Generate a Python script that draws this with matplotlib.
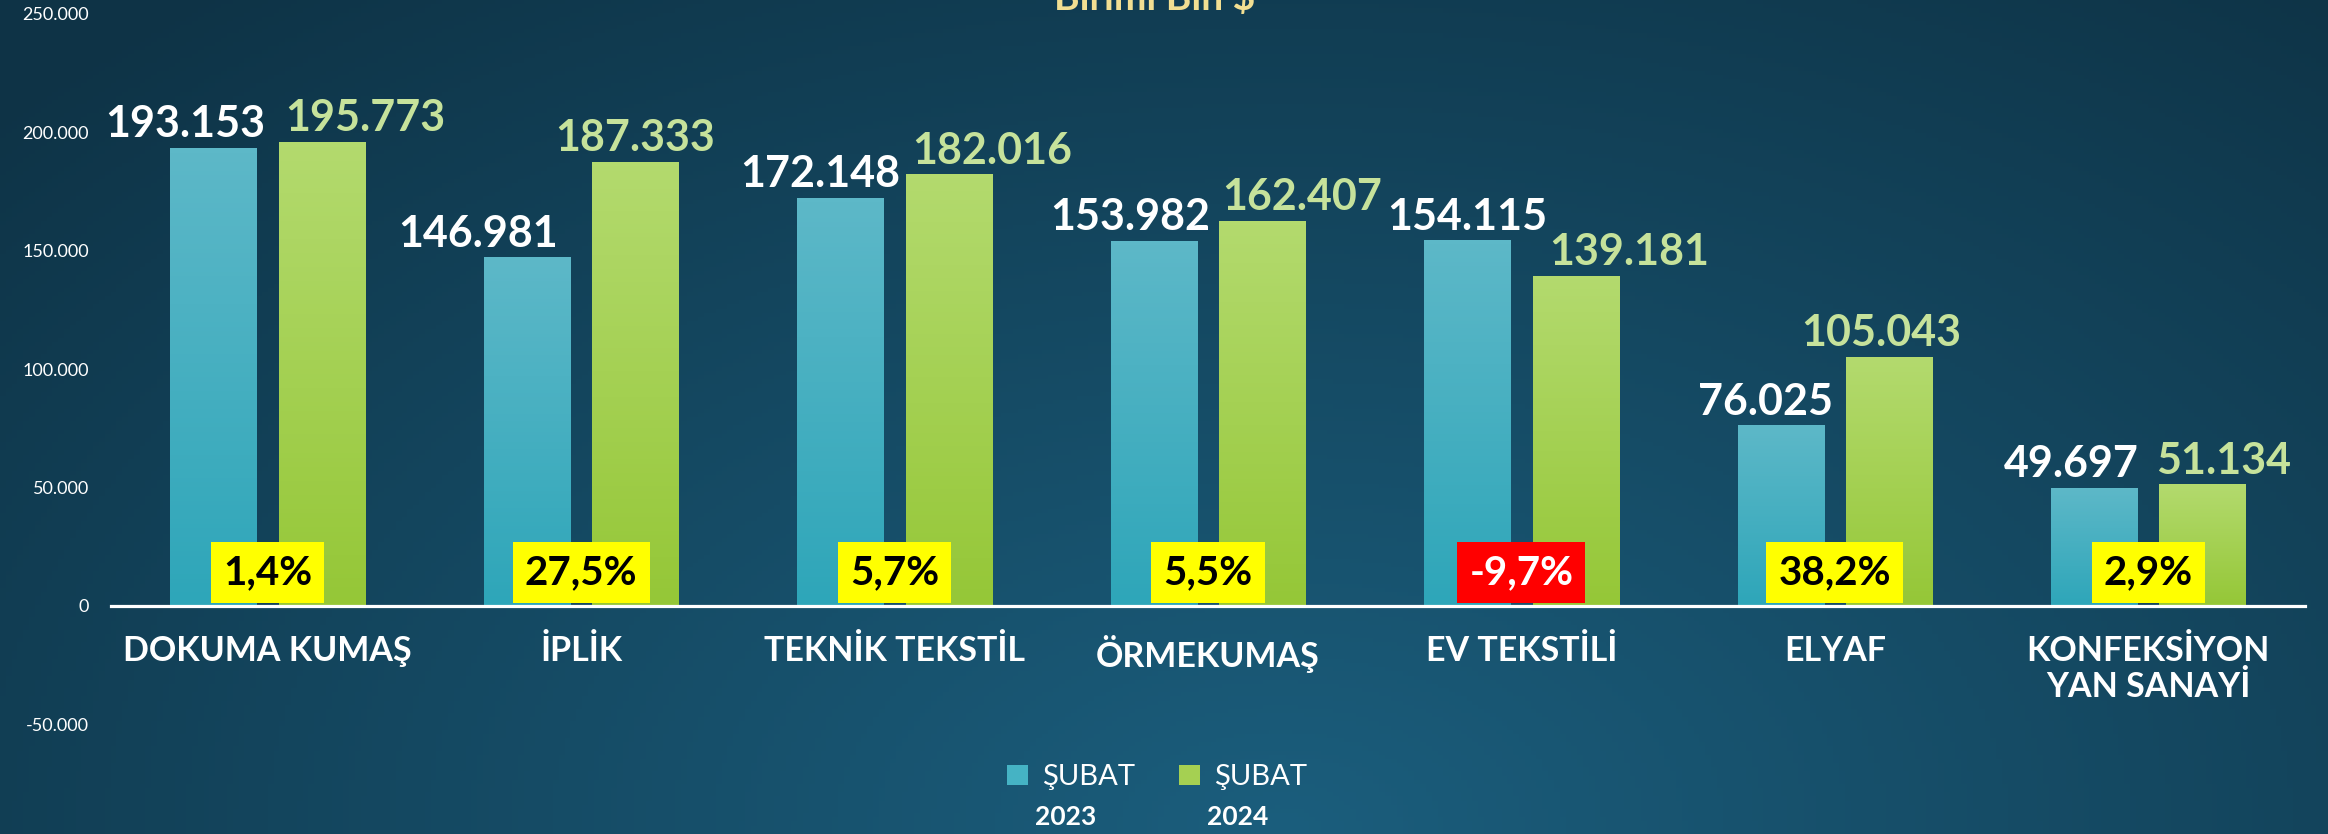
import numpy as np
import matplotlib
matplotlib.use("Agg")
import matplotlib.pyplot as plt
from matplotlib.colors import LinearSegmentedColormap

plt.rcParams['font.family'] = ['Lato', 'DejaVu Sans']

# veriler (Bin $)
categories = ['DOKUMA KUMAŞ', 'İPLİK', 'TEKNİK TEKSTİL', 'ÖRMEKUMAŞ',
              'EV TEKSTİLİ', 'ELYAF', 'KONFEKSİYON\nYAN SANAYİ']
subat_2023 = [193153, 146981, 172148, 153982, 154115, 76025, 49697]
subat_2024 = [195773, 187333, 182016, 162407, 139181, 105043, 51134]
series_names = ['ŞUBAT', 'ŞUBAT']
years = ['2023', '2024']
yticks = [-50000, 0, 50000, 100000, 150000, 200000, 250000]

# etiketlerin yatay kaydirmalari (cakismayi onlemek icin)
dx_2023 = [-0.09, -0.156, -0.065, -0.076, 0.0, -0.047, -0.071]
dx_2024 = [0.137, 0.0, 0.137, 0.128, 0.171, -0.024, 0.066]


def fmt(v):
    return f"{v:,.0f}".replace(',', '.')


fig = plt.figure(figsize=(23.28, 8.34), dpi=100)

# arka plan gradyani
bg = fig.add_axes([0, 0, 1, 1], zorder=-10)
h, w = 200, 400
yy, xx = np.mgrid[0:1:h * 1j, 0:1:w * 1j]
t = np.sqrt(((xx - 0.55) / 0.75) ** 2 + ((yy - 1.0) / 1.3) ** 2)
t = np.clip(t, 0, 1)
light = np.array([0x1b, 0x5e, 0x7d]) / 255
dark = np.array([0x0e, 0x33, 0x46]) / 255
img = light[None, None, :] * (1 - t[..., None]) + dark[None, None, :] * t[..., None]
bg.imshow(img, aspect='auto', extent=[0, 1, 0, 1], origin='upper')
bg.axis('off')

ax = fig.add_axes([0.0477, 0.1313, 0.9424, 0.8525])
ax.set_facecolor('none')

x = np.arange(len(categories))
bw = 0.275
off = 0.173
b1 = ax.bar(x - off, subat_2023, bw, color='#45b3c4', zorder=2)
b2 = ax.bar(x + off, subat_2024, bw, color='#a5d052', zorder=2)


def gradient(bars, top, bottom):
    cmap = LinearSegmentedColormap.from_list('g', [bottom, top])
    for b in bars:
        x0, y0 = b.get_x(), b.get_y()
        ax.imshow(np.linspace(0, 1, 100).reshape(-1, 1), cmap=cmap,
                  extent=[x0, x0 + b.get_width(), y0, y0 + b.get_height()],
                  origin='lower', aspect='auto', zorder=3)


gradient(b1, '#5db8c8', '#2ea6b9')
gradient(b2, '#b3da6e', '#95c737')

ax.set_xlim(-0.5, len(categories) - 0.5)
ax.set_ylim(-50000, 250000)

# deger etiketleri
for i in range(len(categories)):
    ax.annotate(fmt(subat_2023[i]), xy=(x[i] - off + dx_2023[i], subat_2023[i]),
                xytext=(0, 8), textcoords='offset points', ha='center', va='baseline',
                fontsize=31, fontweight='bold', color='white', zorder=6)
    ax.annotate(fmt(subat_2024[i]), xy=(x[i] + off + dx_2024[i], subat_2024[i]),
                xytext=(0, 8), textcoords='offset points', ha='center', va='baseline',
                fontsize=31, fontweight='bold', color='#c6e29b', zorder=6)

# degisim kutulari
for i in range(len(categories)):
    ch = (subat_2024[i] / subat_2023[i] - 1) * 100
    neg = ch < 0
    ax.text(x[i], 14000, f"{ch:.1f}%".replace('.', ','), ha='center', va='center',
            fontsize=29, fontweight='bold', color='white' if neg else 'black',
            bbox=dict(boxstyle='square,pad=0.3', fc='#ff0000' if neg else '#ffff00', ec='none'),
            zorder=7)

# eksenler
for s in ['top', 'right', 'left']:
    ax.spines[s].set_visible(False)
ax.spines['bottom'].set_position(('data', 0))
ax.spines['bottom'].set_color('white')
ax.spines['bottom'].set_linewidth(2.3)
ax.spines['bottom'].set_zorder(5)

ax.set_yticks(yticks)
ax.set_yticklabels([fmt(v) for v in yticks])
ax.tick_params(axis='y', length=0, pad=16, labelsize=13, labelcolor='white')
ax.set_xticks(x)
ax.set_xticklabels(categories, fontweight='bold')
ax.tick_params(axis='x', length=0, pad=21, labelsize=24.5, labelcolor='white')
for lbl in ax.get_xticklabels():
    lbl.set_linespacing(1.15)

# baslik (ust kenarda kesik)
fig.text(0.496, 1 - 10 / 834, 'Birimi Bin $', ha='center', va='baseline',
         fontsize=28, fontweight='bold', color='#f2df92')

# lejant
leg = fig.legend([b1, b2], series_names, loc='center', bbox_to_anchor=(0.497, 0.068),
                 ncol=2, frameon=False, fontsize=21, handlelength=0.72, handleheight=0.72,
                 handletextpad=0.5, columnspacing=1.5, labelcolor='white')

fig.canvas.draw()
for txt, yr in zip(leg.get_texts(), years):
    bb = txt.get_window_extent()
    fig.text(bb.x0 / fig.bbox.width - 0.003, 17 / 834, yr, ha='left', va='center',
             fontsize=19, fontweight='bold', color='white')

fig.savefig('out.png', dpi=100)
